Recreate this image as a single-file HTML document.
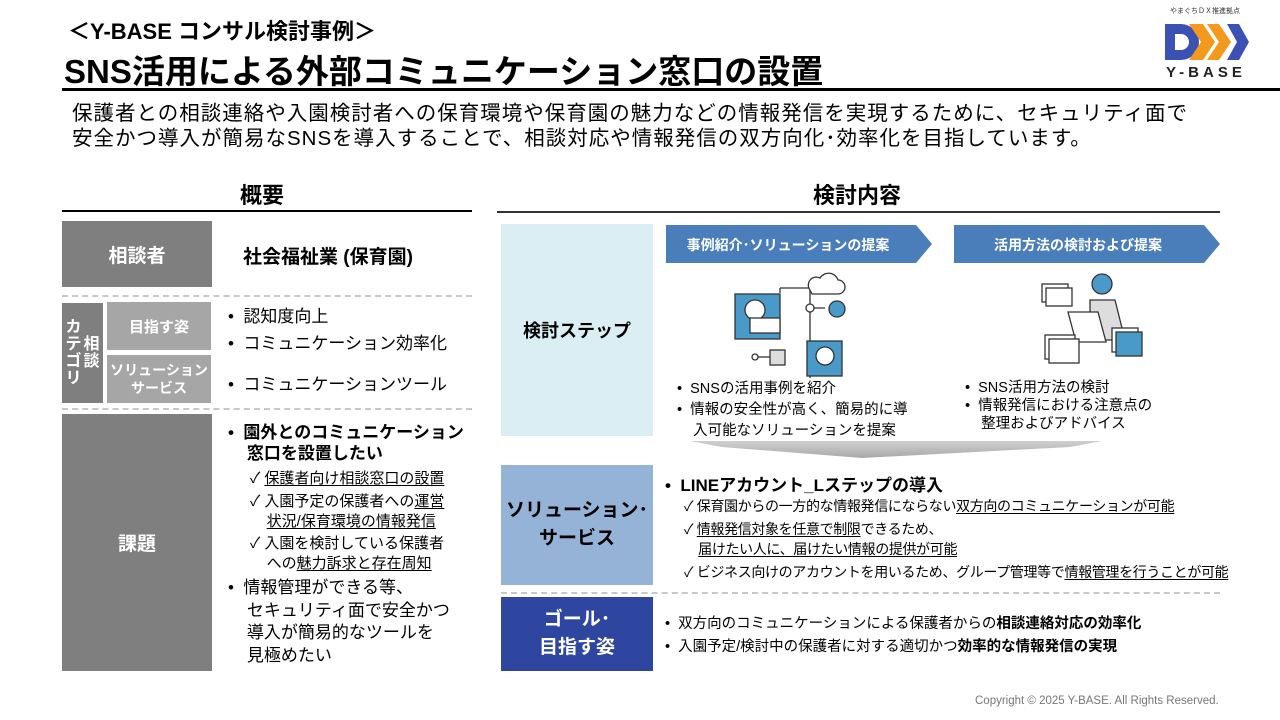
<!DOCTYPE html>
<html><head><meta charset="utf-8"><style>
*{margin:0;padding:0;box-sizing:border-box}
body{width:1280px;height:720px;position:relative;background:#fff;font-family:"Liberation Sans","Noto Sans CJK JP",sans-serif;color:#000;overflow:hidden}
.a{position:absolute;white-space:nowrap}
.box{position:absolute;display:flex;align-items:center;justify-content:center;text-align:center;font-weight:bold;color:#fff}
.dash{position:absolute;border-top:2px dashed #c8c8c8;height:0}
u{text-decoration:underline;text-underline-offset:2px}
.b{font-weight:bold}
</style></head><body>
<div class="a b" style="left:68px;top:14px;font-size:22px">＜Y-BASE コンサル検討事例＞</div>
<div class="a b" style="left:64px;top:45px;font-size:33px;letter-spacing:0px">SNS活用による外部コミュニケーション窓口の設置</div>
<div class="a" style="left:62px;top:88px;width:1218px;height:3px;background:#000"></div>
<!-- logo -->
<div class="a" style="left:1170px;top:6px;font-size:7px;color:#333">やまぐちＤＸ推進拠点</div>
<svg class="a" style="left:1163px;top:22px" width="90" height="42" viewBox="0 0 90 42">
<path d="M2 2h16a18 18 0 0 1 0 36H2z M12 12v16h6a8 8 0 0 0 0-16z" fill="#3b52b4" fill-rule="evenodd"/>
<polygon points="26,2 40,2 52,20 40,38 26,38 38,20" fill="#f39a1e"/>
<polygon points="44,2 56,2 68,20 56,38 44,38 56,20" fill="#f39a1e"/>
<polygon points="64,2 76,2 86,20 76,38 64,38 74,20" fill="#3b52b4"/>
</svg>
<div class="a b" style="left:1166px;top:64px;font-size:15px;letter-spacing:4px;color:#222">Y-BASE</div>

<div class="a" style="left:72px;top:101px;font-size:20.5px;line-height:25px;letter-spacing:1px">保護者との相談連絡や入園検討者への保育環境や保育園の魅力などの情報発信を実現するために、セキュリティ面で<br>安全かつ導入が簡易なSNSを導入することで、相談対応や情報発信の双方向化･効率化を目指しています。</div>

<div class="a b" style="left:240px;top:178px;font-size:22px">概要</div>
<div class="a" style="left:62px;top:210px;width:410px;height:2px;background:#000"></div>
<div class="a b" style="left:813px;top:178px;font-size:22px">検討内容</div>
<div class="a" style="left:497px;top:211px;width:723px;height:2px;background:#333"></div>

<!-- left -->
<div class="box" style="left:62px;top:221px;width:150px;height:66px;background:#7f7f7f;font-size:19px">相談者</div>
<div class="a b" style="left:243px;top:242px;font-size:19px">社会福祉業 (保育園)</div>
<div class="dash" style="left:62px;top:295px;width:410px"></div>
<div class="box" style="left:62px;top:303px;width:41px;height:100px;background:#7f7f7f;font-size:16px;line-height:17px">
<div style="display:flex;gap:2px;align-items:center"><div style="width:16px;white-space:normal">カテゴリ</div><div style="width:16px;white-space:normal">相談</div></div></div>
<div class="box" style="left:107px;top:302px;width:104px;height:48px;background:#a6a6a6;font-size:15px">目指す姿</div>
<div class="box" style="left:107px;top:355px;width:104px;height:48px;background:#a6a6a6;font-size:14px;line-height:18px">ソリューション<br>サービス</div>
<div class="a" style="left:228px;top:303px;font-size:17px;line-height:27px">•&nbsp; 認知度向上<br>•&nbsp; コミュニケーション効率化</div>
<div class="a" style="left:228px;top:370px;font-size:17px">•&nbsp; コミュニケーションツール</div>
<div class="dash" style="left:62px;top:408px;width:410px"></div>
<div class="box" style="left:62px;top:414px;width:150px;height:257px;background:#7f7f7f;font-size:19px">課題</div>
<div class="a b" style="left:228px;top:422px;font-size:17px;line-height:21px">•&nbsp; 園外とのコミュニケーション<br>&nbsp;&nbsp;&nbsp;&nbsp;窓口を設置したい</div>
<div class="a" style="left:250px;top:469px;font-size:15px;line-height:20px">✓ <u>保護者向け相談窓口の設置</u></div>
<div class="a" style="left:250px;top:492px;font-size:15px;line-height:20px">✓ 入園予定の保護者への<u>運営</u><br>&nbsp;&nbsp;&nbsp;&nbsp;<u>状況/保育環境の情報発信</u></div>
<div class="a" style="left:250px;top:534px;font-size:15px;line-height:20px">✓ 入園を検討している保護者<br>&nbsp;&nbsp;&nbsp;&nbsp;への<u>魅力訴求と存在周知</u></div>
<div class="a" style="left:228px;top:577px;font-size:17px;line-height:22.5px">•&nbsp; 情報管理ができる等、<br>&nbsp;&nbsp;&nbsp;&nbsp;セキュリティ面で安全かつ<br>&nbsp;&nbsp;&nbsp;&nbsp;導入が簡易的なツールを<br>&nbsp;&nbsp;&nbsp;&nbsp;見極めたい</div>

<!-- right -->
<div class="box" style="left:501px;top:224px;width:152px;height:212px;background:#daeef3;color:#000;font-size:18px">検討ステップ</div>
<svg class="a" style="left:666px;top:225px" width="560" height="38">
<polygon points="0,0 250,0 266,19 250,38 0,38" fill="#4a7ebb"/>
<polygon points="288,0 538,0 554,19 538,38 288,38" fill="#4a7ebb"/>
<text x="122" y="25" font-size="14" font-weight="bold" fill="#fff" text-anchor="middle" font-family="Liberation Sans,Noto Sans CJK JP,sans-serif">事例紹介･ソリューションの提案</text>
<text x="412" y="25" font-size="14" font-weight="bold" fill="#fff" text-anchor="middle" font-family="Liberation Sans,Noto Sans CJK JP,sans-serif">活用方法の検討および提案</text>
</svg>
<!-- illustration 1 -->
<svg class="a" style="left:730px;top:268px" width="130" height="110" fill="none" stroke="#333" stroke-width="1.3">
<path d="M50 20h30 M50 20v5 M80 20v40 M80 40h15 M80 60v90" />
<path d="M80 22a8 8 0 0 1 10-12a10 10 0 0 1 18 2a7 7 0 0 1 0 14H82z" fill="#fff"/>
<circle cx="107" cy="41" r="8" fill="#4a9ac9"/>
<circle cx="80" cy="40" r="4" fill="#fff"/>
<rect x="5" y="26" width="45" height="45" fill="#4a9ac9"/>
<circle cx="25" cy="42" r="10" fill="#fff"/>
<rect x="20" y="50" width="30" height="15" fill="#fff"/>
<rect x="77" y="73" width="35" height="35" fill="#4a9ac9"/>
<circle cx="95" cy="88" r="9" fill="#fff"/>
<rect x="40" y="82" width="15" height="15" fill="#ddd"/>
<path d="M25 89h15"/><circle cx="25" cy="89" r="3" fill="#fff"/>
</svg>
<!-- illustration 2 -->
<svg class="a" style="left:1040px;top:270px" width="110" height="100" fill="none" stroke="#333" stroke-width="1.3">
<rect x="2" y="14" width="26" height="18" fill="#fff"/><rect x="6" y="18" width="26" height="18" fill="#fff"/>
<circle cx="62" cy="14" r="10" fill="#4a9ac9"/>
<path d="M50 30l25 0 10 40 -35 0z" fill="#ddd"/>
<path d="M28 42l30 0 8 30 -30 0z" fill="#fff"/>
<rect x="5" y="65" width="30" height="24" fill="#fff"/><rect x="9" y="69" width="30" height="24" fill="#fff"/>
<rect x="72" y="58" width="26" height="24" fill="#fff"/><rect x="76" y="62" width="26" height="24" fill="#4a9ac9"/>
</svg>
<div class="a" style="left:677px;top:379px;font-size:14.5px;line-height:21px">•&nbsp; SNSの活用事例を紹介<br>•&nbsp; 情報の安全性が高く、簡易的に導<br>&nbsp;&nbsp;&nbsp;&nbsp;入可能なソリューションを提案</div>
<div class="a" style="left:965px;top:379px;font-size:14.5px;line-height:18px">•&nbsp; SNS活用方法の検討<br>•&nbsp; 情報発信における注意点の<br>&nbsp;&nbsp;&nbsp;&nbsp;整理およびアドバイス</div>
<svg class="a" style="left:690px;top:441px" width="412" height="18">
<defs><linearGradient id="g" x1="0" y1="0" x2="0" y2="1"><stop offset="0" stop-color="#d0d0d0"/><stop offset="1" stop-color="#a8a8a8"/></linearGradient></defs>
<polygon points="0,0 412,0 380,6 172,17 32,6" fill="url(#g)"/>
</svg>
<div class="box" style="left:501px;top:465px;width:152px;height:120px;background:#95b3d7;color:#000;font-size:19px;line-height:28px">ソリューション･<br>サービス</div>
<div class="a b" style="left:665px;top:471px;font-size:17px">•&nbsp; LINEアカウント_Lステップの導入</div>
<div class="a" style="left:684px;top:496px;font-size:14px;line-height:20px;letter-spacing:-0.35px">✓ 保育園からの一方的な情報発信にならない<u>双方向のコミュニケーションが可能</u></div>
<div class="a" style="left:684px;top:519px;font-size:14px;line-height:20px;letter-spacing:-0.35px">✓ <u>情報発信対象を任意で制限</u>できるため、<br>&nbsp;&nbsp;&nbsp;&nbsp;<u>届けたい人に、届けたい情報の提供が可能</u></div>
<div class="a" style="left:684px;top:562px;font-size:14px;line-height:20px;letter-spacing:-0.35px">✓ ビジネス向けのアカウントを用いるため、グループ管理等で<u>情報管理を行うことが可能</u></div>
<div class="dash" style="left:501px;top:592px;width:719px"></div>
<div class="box" style="left:501px;top:597px;width:152px;height:74px;background:#2e46a0;font-size:19px;line-height:28px">ゴール･<br>目指す姿</div>
<div class="a" style="left:665px;top:613px;font-size:14.5px;line-height:23px">•&nbsp; 双方向のコミュニケーションによる保護者からの<b>相談連絡対応の効率化</b><br>•&nbsp; 入園予定/検討中の保護者に対する適切かつ<b>効率的な情報発信の実現</b></div>
<div class="a" style="left:975px;top:695px;font-size:11.5px;color:#777">Copyright © 2025 Y-BASE. All Rights Reserved.</div>
</body></html>
